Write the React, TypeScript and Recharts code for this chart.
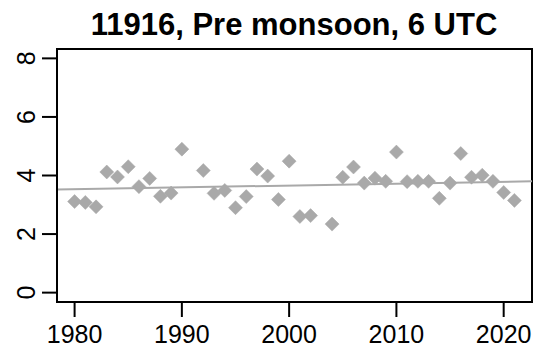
import { ScatterChart, Scatter, XAxis, YAxis, ReferenceLine, ReferenceArea } from 'recharts';

// Station 11916, pre-monsoon season, 6 UTC soundings
const years = [
  1980, 1981, 1982, 1983, 1984, 1985, 1986, 1987, 1988, 1989, 1990,
  1992, 1993, 1994, 1995, 1996, 1997, 1998, 1999, 2000, 2001, 2002,
  2004, 2005, 2006, 2007, 2008, 2009, 2010, 2011, 2012, 2013, 2014,
  2015, 2016, 2017, 2018, 2019, 2020, 2021,
];
const values = [
  3.11, 3.08, 2.93, 4.12, 3.95, 4.30, 3.62, 3.90, 3.29, 3.40, 4.90,
  4.17, 3.39, 3.49, 2.90, 3.28, 4.22, 3.98, 3.18, 4.49, 2.60, 2.63,
  2.34, 3.94, 4.29, 3.74, 3.91, 3.80, 4.80, 3.79, 3.80, 3.80, 3.22,
  3.74, 4.75, 3.94, 4.01, 3.80, 3.42, 3.15,
];
const xTicks = [1980, 1990, 2000, 2010, 2020];
const yTicks = [0, 2, 4, 6, 8];

// linear trend, evaluated at the ends of the x range
const trendYears = [1978.36, 2022.64];
const trendValues = [3.52, 3.8];

const xDomain: [number, number] = [1978.36, 2022.64];
const yDomain: [number, number] = [-0.32, 8.32];

const data = years.map((year, i) => ({ year, value: values[i] }));

const FONT = '"Liberation Sans", Arial, sans-serif';
const GREY = '#a9a9a9';

function Diamond(props: any) {
  const { cx, cy } = props;
  const r = 7;
  return (
    <polygon
      points={`${cx},${cy - r} ${cx + r},${cy} ${cx},${cy + r} ${cx - r},${cy}`}
      fill={GREY}
      stroke={GREY}
      strokeWidth={0.5}
      strokeLinejoin="round"
    />
  );
}

function YTick(props: any) {
  const { x, y, payload } = props;
  return (
    <text
      x={x}
      y={y}
      transform={`rotate(-90 ${x} ${y})`}
      textAnchor="middle"
      fontSize={25}
      fontFamily={FONT}
      fill="#000"
    >
      {payload.value}
    </text>
  );
}

export default function App() {
  return (
    <div style={{ position: 'absolute', left: 0, top: 0, width: 552, height: 352, background: '#fff' }}>
      <ScatterChart width={552} height={352} margin={{ top: 49, right: 20, bottom: 0, left: 0 }}>
        <XAxis
          type="number"
          dataKey="year"
          domain={xDomain}
          ticks={xTicks}
          allowDataOverflow
          height={50}
          tickSize={15}
          tickMargin={8}
          axisLine={{ stroke: '#000', strokeWidth: 2 }}
          tickLine={{ stroke: '#000', strokeWidth: 2 }}
          tick={{ fontSize: 25, fontFamily: FONT, fill: '#000' }}
        />
        <YAxis
          type="number"
          dataKey="value"
          domain={yDomain}
          ticks={yTicks}
          allowDataOverflow
          width={57}
          tickSize={15}
          tickMargin={7}
          axisLine={{ stroke: '#000', strokeWidth: 2 }}
          tickLine={{ stroke: '#000', strokeWidth: 2 }}
          tick={<YTick />}
        />
        <ReferenceArea
          x1={xDomain[0]}
          x2={xDomain[1]}
          y1={yDomain[0]}
          y2={yDomain[1]}
          fill="none"
          fillOpacity={0}
          stroke="#000"
          strokeWidth={2}
        />
        <ReferenceLine
          segment={[
            { x: trendYears[0], y: trendValues[0] },
            { x: trendYears[1], y: trendValues[1] },
          ]}
          stroke={GREY}
          strokeWidth={2}
        />
        <Scatter data={data} shape={<Diamond />} isAnimationActive={false} />
      </ScatterChart>
      <svg width={552} height={50} style={{ position: 'absolute', left: 0, top: 0 }}>
        <text x={294} y={35} textAnchor="middle" fontSize={31} fontWeight="bold" fontFamily={FONT} fill="#000">
          11916, Pre monsoon, 6 UTC
        </text>
      </svg>
    </div>
  );
}
